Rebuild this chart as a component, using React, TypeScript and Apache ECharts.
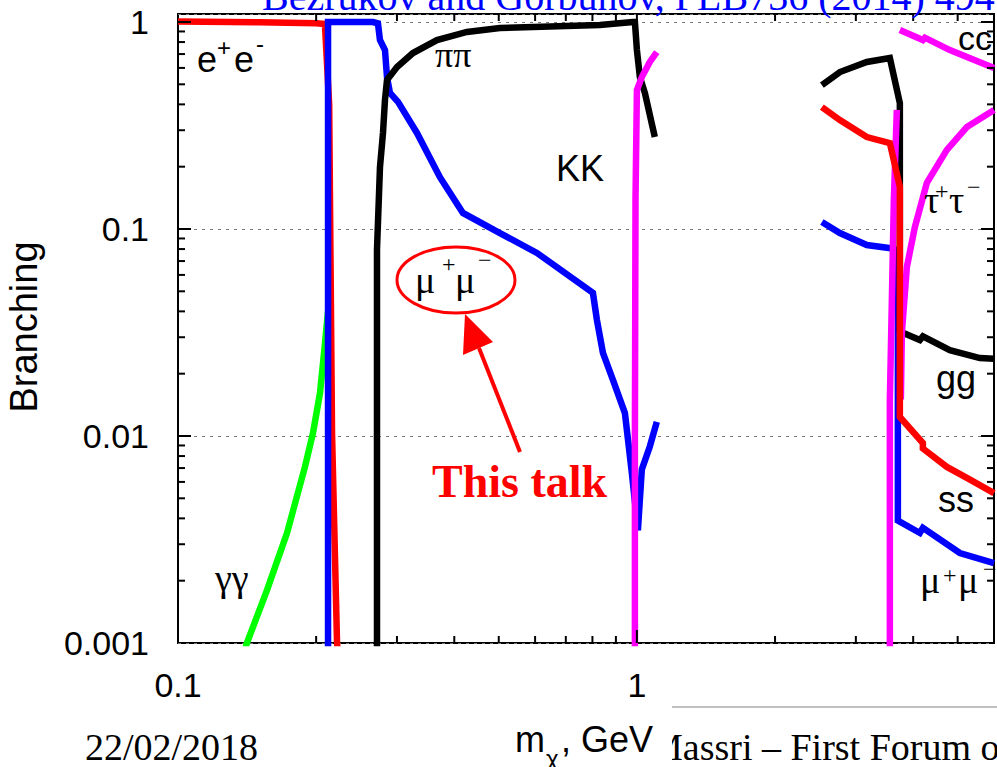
import React, { useEffect, useRef } from "react";
import * as echarts from "echarts";

// Axis extents (GeV on x, branching ratio on y)
const X_MIN = 0.1;
const X_MAX = 6;
const Y_MIN = 0.001;
const Y_MAX = 1.093;

// Decay channels: [m_chi (GeV), branching]
const gammaGamma: [number, number][] = [
  [0.1395, 0.0009], [0.1413, 0.001], [0.1563, 0.0018], [0.1728, 0.0034],
  [0.1891, 0.0071], [0.1968, 0.0103], [0.2039, 0.0161], [0.2091, 0.0281], [0.2123, 0.04],
];

const electrons: [number, number][] = [
  [0.1, 1.005], [0.15, 0.997], [0.2, 0.987], [0.209, 0.978],
  [0.2135, 0.4], [0.2166, 0.0103], [0.2221, 0.001], [0.223, 0.0009],
];

const muonsLow: [number, number][] = [
  [0.2123, 0.0009], [0.2123, 1.0], [0.266, 1.0], [0.2727, 0.985], [0.2755, 0.818],
  [0.2825, 0.732], [0.2854, 0.542], [0.2897, 0.454], [0.3016, 0.411], [0.3317, 0.291],
  [0.3722, 0.178], [0.4177, 0.1195], [0.5029, 0.0956], [0.6055, 0.0766], [0.802, 0.0491],
  [0.8183, 0.0363], [0.8433, 0.0252], [0.8866, 0.01865], [0.9416, 0.0129], [0.9752, 0.0066],
  [1.005, 0.0035], [1.025, 0.0069], [1.067, 0.0089], [1.105, 0.0117],
];

const muonsHigh: [number, number][] = [
  [2.53, 0.108], [2.769, 0.0956], [3.17, 0.0837], [3.54, 0.081], [3.704, 0.079],
  [3.704, 0.0039], [4.136, 0.0034], [4.2, 0.0036], [5.055, 0.00272], [6.0, 0.00243],
];

const pions: [number, number][] = [
  [0.2714, 0.0009], [0.2714, 0.0792], [0.2755, 0.199], [0.2797, 0.291], [0.2825, 0.42],
  [0.2854, 0.525], [0.3001, 0.606], [0.3251, 0.708], [0.3667, 0.818], [0.4262, 0.895],
  [0.5029, 0.935], [0.8306, 0.967], [0.98, 1.0], [0.99, 1.0], [1.0, 0.732],
  [1.015, 0.542], [1.041, 0.454], [1.094, 0.278],
];

const hadronsHigh: [number, number][] = [
  [2.53, 0.496], [2.769, 0.573], [3.17, 0.641], [3.558, 0.67], [3.741, 0.406],
  [3.741, 0.0325], [3.798, 0.0315], [4.136, 0.0291], [4.2, 0.0303], [4.808, 0.026],
  [5.589, 0.0238], [6.0, 0.0236],
];

const kaons: [number, number][] = [
  [0.99, 0.0009], [0.99, 0.01], [0.993, 0.138], [1.0, 0.469],
  [1.025, 0.542], [1.067, 0.641], [1.105, 0.716],
];

const charmRise: [number, number][] = [
  [3.558, 0.0009], [3.558, 0.0149], [3.594, 0.0454], [3.63, 0.138], [3.685, 0.376],
];

const charm: [number, number][] = [
  [3.741, 0.915], [4.199, 0.818], [4.242, 0.84], [4.808, 0.732], [6.0, 0.6],
];

const taus: [number, number][] = [
  [3.76, 0.015], [3.779, 0.0315], [3.875, 0.0655], [4.034, 0.1022], [4.284, 0.167],
  [4.736, 0.241], [5.236, 0.311], [6.0, 0.376],
];

const strangeHigh: [number, number][] = [
  [2.53, 0.388], [2.769, 0.336], [3.17, 0.278], [3.558, 0.26], [3.741, 0.16],
  [3.741, 0.01235], [4.199, 0.00925], [4.199, 0.0087], [4.736, 0.00709],
  [5.236, 0.00627], [6.0, 0.0053],
];

// Axis tick positions
const xMinorTicks = [0.2, 0.3, 0.4, 0.5, 0.6, 0.7, 0.8, 0.9, 2, 3, 4, 5];
const xMajorTicks = [1];
const yMinorTicks = [
  0.002, 0.003, 0.004, 0.005, 0.006, 0.007, 0.008, 0.009,
  0.02, 0.03, 0.04, 0.05, 0.06, 0.07, 0.08, 0.09,
  0.2, 0.3, 0.4, 0.5, 0.6, 0.7, 0.8, 0.9,
];
const yMajorTicks = [0.01, 0.1, 1];

const RED = "#ff0000";
const BLUE = "#0000ff";
const BLACK = "#000000";
const GREEN = "#00ff00";
const MAGENTA = "#ff00ff";

const SANS = '"Liberation Sans", Arial, sans-serif';
const SERIF = '"Liberation Serif", "Times New Roman", serif';

const MINOR_LEN = 7;
const MAJOR_LEN = 13;

function curve(name: string, data: [number, number][], color: string) {
  return {
    name,
    type: "line",
    data,
    symbol: "none",
    showSymbol: false,
    clip: true,
    silent: true,
    lineStyle: { color, width: 6.5, cap: "butt", join: "miter" },
  };
}

function txt(text: string, x: number, y: number, size: number, family: string, extra: any = {}) {
  return {
    type: "text",
    x,
    y,
    z: 100,
    silent: true,
    style: {
      text,
      fontSize: size,
      fontFamily: family,
      fill: "#000",
      align: "left",
      verticalAlign: "middle",
      ...extra,
    },
  };
}

export default function App() {
  const ref = useRef<HTMLDivElement>(null);

  useEffect(() => {
    if (!ref.current) return;
    const chart = echarts.init(ref.current, null, { renderer: "svg" });

    const xTickData = [
      ...xMinorTicks.map((v) => [v, Y_MIN, MINOR_LEN]),
      ...xMajorTicks.map((v) => [v, Y_MIN, MAJOR_LEN]),
    ];
    const yTickData = [
      ...yMinorTicks.map((v) => [X_MIN, v, MINOR_LEN]),
      ...yMajorTicks.map((v) => [X_MIN, v, MAJOR_LEN]),
    ];
    const tickStyle = { stroke: "#000", lineWidth: 2 };
    const fmt = (v: number) => String(Number(v.toPrecision(3)));

    const option: any = {
      animation: false,
      backgroundColor: "#ffffff",
      grid: {
        left: 178,
        right: 3,
        top: 14,
        bottom: 124,
        outerBoundsMode: "none",
        containLabel: false,
        show: true,
        borderColor: "#000",
        borderWidth: 2,
        backgroundColor: "transparent",
      },
      xAxis: {
        type: "log",
        logBase: 10,
        min: X_MIN,
        max: X_MAX,
        axisLine: { show: false },
        axisTick: { show: false },
        splitLine: { show: false },
        axisLabel: {
          margin: 25,
          fontSize: 34,
          fontFamily: SANS,
          color: "#000",
          showMaxLabel: false,
          formatter: fmt,
        },
      },
      yAxis: {
        type: "log",
        logBase: 10,
        min: Y_MIN,
        max: Y_MAX,
        axisLine: { show: false },
        axisTick: { show: false },
        splitLine: {
          show: true,
          lineStyle: { color: "#777", width: 1, type: [3, 5] },
        },
        axisLabel: {
          margin: 29,
          fontSize: 34,
          fontFamily: SANS,
          color: "#000",
          showMaxLabel: false,
          formatter: fmt,
        },
      },
      series: [
        curve("γγ", gammaGamma, GREEN),
        curve("e+e-", electrons, RED),
        curve("μ+μ- (low)", muonsLow, BLUE),
        curve("μ+μ- (high)", muonsHigh, BLUE),
        curve("ππ", pions, BLACK),
        curve("gg", hadronsHigh, BLACK),
        curve("KK", kaons, MAGENTA),
        curve("cc rise", charmRise, MAGENTA),
        curve("cc", charm, MAGENTA),
        curve("τ+τ-", taus, MAGENTA),
        curve("ss", strangeHigh, RED),
        {
          type: "custom",
          name: "x ticks",
          silent: true,
          clip: false,
          z: 10,
          encode: { x: 0, y: 1 },
          data: xTickData,
          renderItem: (_p: any, api: any) => {
            const v = api.value(0);
            const len = api.value(2);
            const b = api.coord([v, Y_MIN]);
            const t = api.coord([v, Y_MAX]);
            return {
              type: "group",
              children: [
                { type: "line", shape: { x1: b[0], y1: b[1], x2: b[0], y2: b[1] - len }, style: tickStyle },
                { type: "line", shape: { x1: t[0], y1: t[1], x2: t[0], y2: t[1] + len }, style: tickStyle },
              ],
            };
          },
        },
        {
          type: "custom",
          name: "y ticks",
          silent: true,
          clip: false,
          z: 10,
          encode: { x: 0, y: 1 },
          data: yTickData,
          renderItem: (_p: any, api: any) => {
            const v = api.value(1);
            const len = api.value(2);
            const l = api.coord([X_MIN, v]);
            const r = api.coord([X_MAX, v]);
            return {
              type: "group",
              children: [
                { type: "line", shape: { x1: l[0], y1: l[1], x2: l[0] + len, y2: l[1] }, style: tickStyle },
                { type: "line", shape: { x1: r[0], y1: r[1], x2: r[0] - len, y2: r[1] }, style: tickStyle },
              ],
            };
          },
        },
      ],
      graphic: [
        // reference line in the header
        txt("Bezrukov and Gorbunov, PLB736 (2014) 494", 262, -3.5, 40, SERIF, { fill: BLUE }),
        // channel labels
        txt("e", 197, 59.5, 36, SANS),
        txt("+", 217, 47.5, 24, SANS),
        txt("e", 234, 59.5, 36, SANS),
        txt("-", 256, 43.5, 24, SANS),
        txt("ππ", 435, 55, 36, SERIF),
        txt("KK", 556, 168.5, 36, SANS),
        txt("γγ", 215, 578, 38, SERIF),
        txt("cc", 958, 38, 34, SANS),
        txt("τ", 924, 200, 38, SERIF),
        txt("+", 935, 191, 24, SERIF),
        txt("τ", 949, 200, 38, SERIF),
        txt("−", 967, 187, 24, SERIF),
        txt("gg", 936, 378.5, 36, SANS),
        txt("ss", 938, 499.5, 36, SANS),
        txt("μ", 920, 580, 38, SERIF),
        txt("+", 943, 575, 24, SERIF),
        txt("μ", 958, 580, 38, SERIF),
        txt("−", 983, 569, 24, SERIF),
        // highlighted channel
        {
          type: "ellipse",
          z: 100,
          silent: true,
          shape: { cx: 456, cy: 280, rx: 59, ry: 33 },
          style: { fill: "none", stroke: RED, lineWidth: 3 },
        },
        txt("μ", 415, 280, 38, SERIF),
        txt("+", 442, 264, 24, SERIF),
        txt("μ", 455, 280, 38, SERIF),
        txt("−", 478, 260, 24, SERIF),
        {
          type: "line",
          z: 100,
          silent: true,
          shape: { x1: 520, y1: 452, x2: 479, y2: 348 },
          style: { stroke: RED, lineWidth: 4 },
        },
        {
          type: "polygon",
          z: 100,
          silent: true,
          shape: { points: [[465, 314], [463, 355], [493, 342]] },
          style: { fill: RED },
        },
        txt("This talk", 432, 481.5, 46, SERIF, { fill: RED, fontWeight: "bold" }),
        // axis titles
        { ...txt("Branching", 24, 327, 38, SANS, { align: "center" }), rotation: Math.PI / 2 },
        // footer
        txt("22/02/2018", 85, 747, 38, SERIF),
        txt("Massri – First Forum o", 649, 747, 38, SERIF),
        {
          type: "line",
          z: 100,
          silent: true,
          shape: { x1: 672, y1: 707, x2: 997, y2: 707 },
          style: { stroke: "#c0c0c0", lineWidth: 2 },
        },
        {
          type: "rect",
          z: 101,
          silent: true,
          shape: { x: 600, y: 709, width: 72, height: 60 },
          style: { fill: "#ffffff" },
        },
        { ...txt("m", 515, 739.5, 36, SANS), z: 102 },
        { ...txt("χ", 546, 758, 24, SANS), z: 102 },
        { ...txt(", GeV", 561, 739.5, 36, SANS), z: 102 },
      ],
    };

    chart.setOption(option);
    return () => chart.dispose();
  }, []);

  return (
    <div
      ref={ref}
      style={{ position: "fixed", left: 0, top: 0, width: 997, height: 767, background: "#fff" }}
    />
  );
}
